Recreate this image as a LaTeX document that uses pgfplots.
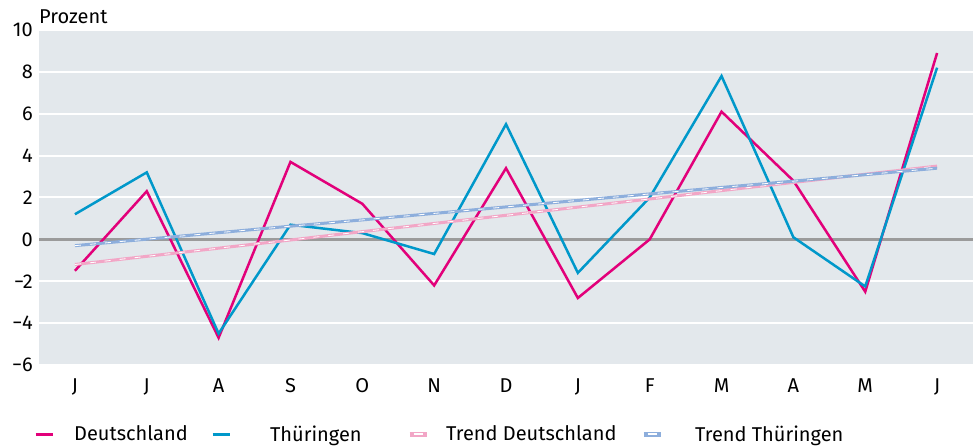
\documentclass[border=0pt]{standalone}
\usepackage{fontspec}
\setmainfont{Fira Sans}
\usepackage{pgfplots}
\pgfplotsset{compat=1.18}
\definecolor{deu}{HTML}{E2007A}
\definecolor{thu}{HTML}{0098CA}
\definecolor{tdeu}{HTML}{F2A6C6}
\definecolor{tthu}{HTML}{8DAEDC}
\definecolor{bgc}{HTML}{E3E8EC}
\definecolor{zeroc}{HTML}{9B9B9B}
\newcommand\fsz{\fontsize{20}{24}\selectfont}
\begin{document}
\begin{tikzpicture}
\begin{axis}[
  at={(39pt,82pt)}, anchor=south west,
  scale only axis, width=934pt, height=335pt,
  xmin=-0.5, xmax=12.5, ymin=-6, ymax=10,
  xtick={0,...,12},
  xticklabels={J,J,A,S,O,N,D,J,F,M,A,M,J},
  ytick={-6,-4,...,10},
  yticklabels={−6,−4,−2,0,2,4,6,8,10},
  axis line style={draw=none},
  tick style={draw=none},
  major tick length=0pt,
  ymajorgrids,
  grid style={white, line width=2pt},
  axis background/.style={fill=bgc},
  yticklabel style={font=\fsz, inner sep=0pt, anchor=east, xshift=-6pt},
  xticklabel style={font=\fsz, inner sep=0pt, anchor=base, yshift=-27pt},
  clip=false,
  legend columns=4,
  legend style={at={(-0.0054,-0.206)}, anchor=west, draw=none, fill=none,
    inner sep=0pt, font=\fsz, column sep=0pt,
    nodes={inner sep=0pt}},
]
\addplot[zeroc, line width=3pt, forget plot] coordinates {(-0.5,0) (12.5,0)};
\addplot[deu, line width=2.5pt, forget plot] coordinates {
(0,-1.5) (1,2.3) (2,-4.7) (3,3.7) (4,1.7) (5,-2.2) (6,3.4) (7,-2.8) (8,0.0) (9,6.1) (10,2.8) (11,-2.5) (12,8.9)};
\addplot[thu, line width=2.5pt, forget plot] coordinates {
(0,1.2) (1,3.2) (2,-4.5) (3,0.7) (4,0.3) (5,-0.7) (6,5.5) (7,-1.6) (8,2.0) (9,7.8) (10,0.1) (11,-2.25) (12,8.2)};
\addplot[tdeu, line width=3pt, forget plot] coordinates {
(0,-1.2) (1,-0.81) (2,-0.42) (3,-0.03) (4,0.37) (5,0.76) (6,1.15) (7,1.54) (8,1.93) (9,2.33) (10,2.72) (11,3.11) (12,3.5)};
\addplot[white, line width=0.8pt, dash pattern=on 6pt off 9pt, forget plot] coordinates {
(0,-1.2) (1,-0.81) (2,-0.42) (3,-0.03) (4,0.37) (5,0.76) (6,1.15) (7,1.54) (8,1.93) (9,2.33) (10,2.72) (11,3.11) (12,3.5)};
\addplot[tthu, line width=3pt, forget plot] coordinates {
(0,-0.3) (1,0.01) (2,0.32) (3,0.63) (4,0.93) (5,1.24) (6,1.55) (7,1.86) (8,2.17) (9,2.48) (10,2.78) (11,3.09) (12,3.4)};
\addplot[white, line width=0.8pt, dash pattern=on 6pt off 9pt, forget plot] coordinates {
(0,-0.3) (1,0.01) (2,0.32) (3,0.63) (4,0.93) (5,1.24) (6,1.55) (7,1.86) (8,2.17) (9,2.48) (10,2.78) (11,3.09) (12,3.4)};
\addlegendimage{legend image code/.code={\draw[deu, line width=3pt] (0pt,0pt) -- (17pt,0pt);}}
\addlegendentry{\makebox[157pt][l]{\hspace*{20pt}Deutschland}}
\addlegendimage{legend image code/.code={\draw[thu, line width=3pt] (0pt,0pt) -- (17pt,0pt);}}
\addlegendentry{\makebox[176pt][l]{\hspace*{39pt}Thüringen}}
\addlegendimage{legend image code/.code={\draw[tdeu, line width=5pt] (0pt,0pt) -- (17pt,0pt); \draw[white, line width=1.5pt] (4pt,0pt) -- (13pt,0pt);}}
\addlegendentry{\makebox[212pt][l]{\hspace*{17pt}Trend Deutschland}}
\addlegendimage{legend image code/.code={\draw[tthu, line width=5pt] (0pt,0pt) -- (17pt,0pt); \draw[white, line width=1.5pt] (4pt,0pt) -- (13pt,0pt);}}
\addlegendentry{\makebox[178pt][l]{\hspace*{32pt}Trend Thüringen}}
\node[anchor=base west, inner sep=0pt, font=\fsz] at (rel axis cs:0,1) [yshift=6pt] {Prozent};
\end{axis}
\pgfresetboundingbox
\path[use as bounding box] (0,0) rectangle (973pt,447pt);
\end{tikzpicture}
\end{document}
